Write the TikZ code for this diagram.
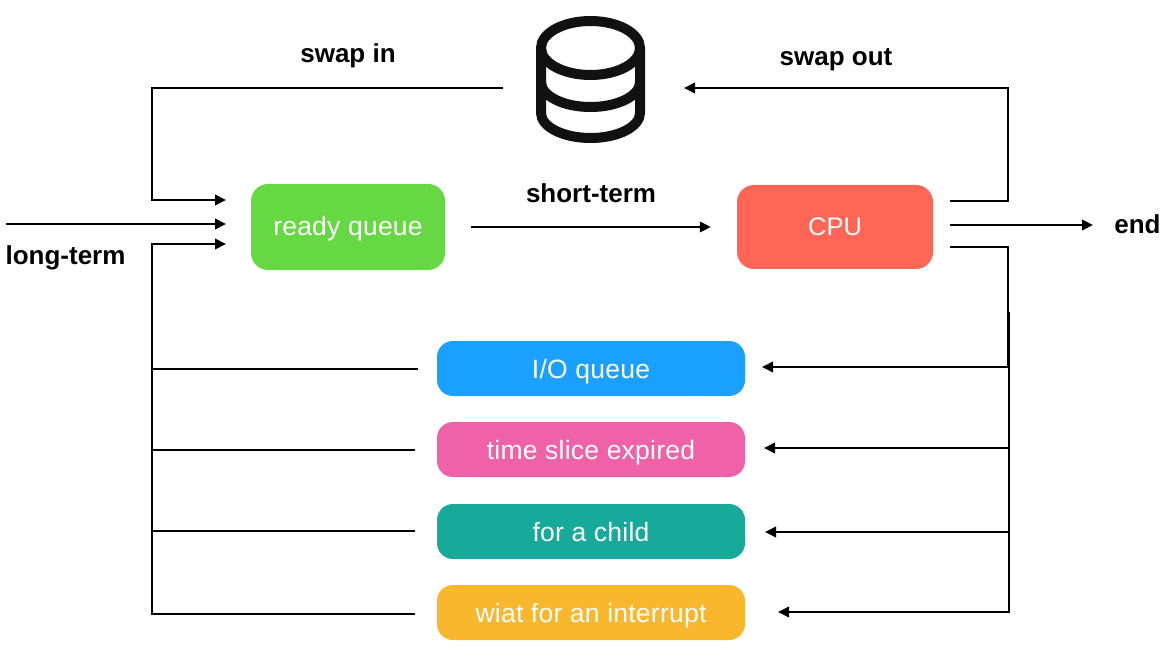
\documentclass[tikz,border=0pt]{standalone}
\usepackage{fontspec}
\setmainfont{Liberation Sans}
\newfontfamily\boxfont[LetterSpace=0.9]{Liberation Sans}
\usetikzlibrary{arrows.meta}
\definecolor{cgreen}{HTML}{66D844}
\definecolor{cred}{HTML}{FF6655}
\definecolor{cblue}{HTML}{1AA1FF}
\definecolor{cpink}{HTML}{EF62A8}
\definecolor{cteal}{HTML}{17A999}
\definecolor{cyellow}{HTML}{F8B72C}
\definecolor{ink}{HTML}{111111}
\tikzset{
  x=1pt,y=-1pt,
  box/.style={rounded corners=#1,text=white,font=\boxfont\fontsize{26.5}{30}\selectfont,inner sep=0pt,anchor=center,text depth=0pt},
  big/.style={box=17pt,minimum height=85pt,text height=18pt},
  row/.style={box=16pt,minimum width=308pt,minimum height=55pt,text height=20pt},
  lab/.style={font=\bfseries\fontsize{26}{30}\selectfont,text=black,inner sep=0pt,anchor=center,text height=19pt,text depth=0pt},
  conn/.style={line width=2pt,draw=black,line join=miter},
  arr/.style={conn,-{Triangle[length=11pt,width=10.5pt]}},
  dbline/.style={line width=10pt,draw=ink}
}
\begin{document}
\begin{tikzpicture}
\useasboundingbox (0,0) rectangle (1172,660);
% boxes
\node[big,fill=cgreen,minimum width=194pt,minimum height=86pt] (ready) at (348,227) {ready queue};
\node[big,fill=cred,minimum width=196pt,minimum height=84pt,font=\rmfamily\fontsize{25.5}{30}\selectfont] (cpu) at (835,227) {CPU};
\node[row,fill=cblue] (io) at (591,368.5) {I/O queue};
\node[row,fill=cpink] (slice) at (591,449.5) {time slice expired};
\node[row,fill=cteal] (child) at (591,531.5) {for a child};
\node[row,fill=cyellow] (wait) at (591,612.5) {wiat for an interrupt};
% database icon
\node[minimum width=109pt,minimum height=127pt,inner sep=0pt] (db) at (590.5,79.5) {};
\draw[dbline] (590.5,48) ellipse [x radius=49.5,y radius=27];
\draw[dbline] (541,48) -- (541,113) arc[start angle=180,end angle=360,x radius=49.5,y radius=-25] -- (640,48);
\draw[dbline] (541,82) arc[start angle=180,end angle=360,x radius=49.5,y radius=-25];
% labels
\node[lab] (swapin) at (348,53.5) {swap in};
\node[lab] (swapout) at (836,56.5) {swap out};
\node[lab] (short) at (591,193.5) {short-term};
\node[lab] (long) at (65.5,255.5) {long-term};
\node[lab] (end) at (1137.5,224.5) {end};
% connector ends
\coordinate (rA) at (226,200);
\coordinate (rB) at (226,224);
\coordinate (rC) at (226,244);
\coordinate (start) at (6,224);
\coordinate (cA) at (950,201);
\coordinate (cB) at (950,225);
\coordinate (cC) at (950,247);
\coordinate (endTip) at (1093,225);
\coordinate (ioL) at (418,369);
\coordinate (slL) at (415,450);
\coordinate (chL) at (415,531);
\coordinate (waL) at (415,614);
\coordinate (ioR) at (762,367);
\coordinate (slR) at (764,448);
\coordinate (chR) at (765,532);
\coordinate (waR) at (778,612);
\coordinate (dbIn) at (684,88);
\coordinate (dbOut) at (503,88);
\coordinate (busL) at (152,614);
\coordinate (busRtop) at (1009,312);
\coordinate (busRbot) at (1009,612);
% connectors
\draw[arr] (dbOut) -- (152,88) -- (152,200) -- (rA);
\draw[arr] (start) -- (rB);
\draw[arr] (waL) -- (busL) -- (152,244) -- (rC);
\draw[conn] (ioL) -- (152,369);
\draw[conn] (slL) -- (152,450);
\draw[conn] (chL) -- (152,531);
\draw[arr,shorten <=26pt,shorten >=26pt] (ready.east) -- (cpu.west);
\draw[arr] (cA) -- (1008,201) -- (1008,88) -- (dbIn);
\draw[arr] (cB) -- (endTip);
\draw[arr] (cC) -- (1008,247) -- (1008,367) -- (ioR);
\draw[arr] (busRtop) -- (busRbot) -- (waR);
\draw[arr] (1009,448) -- (slR);
\draw[arr] (1009,532) -- (chR);
\end{tikzpicture}
\end{document}
